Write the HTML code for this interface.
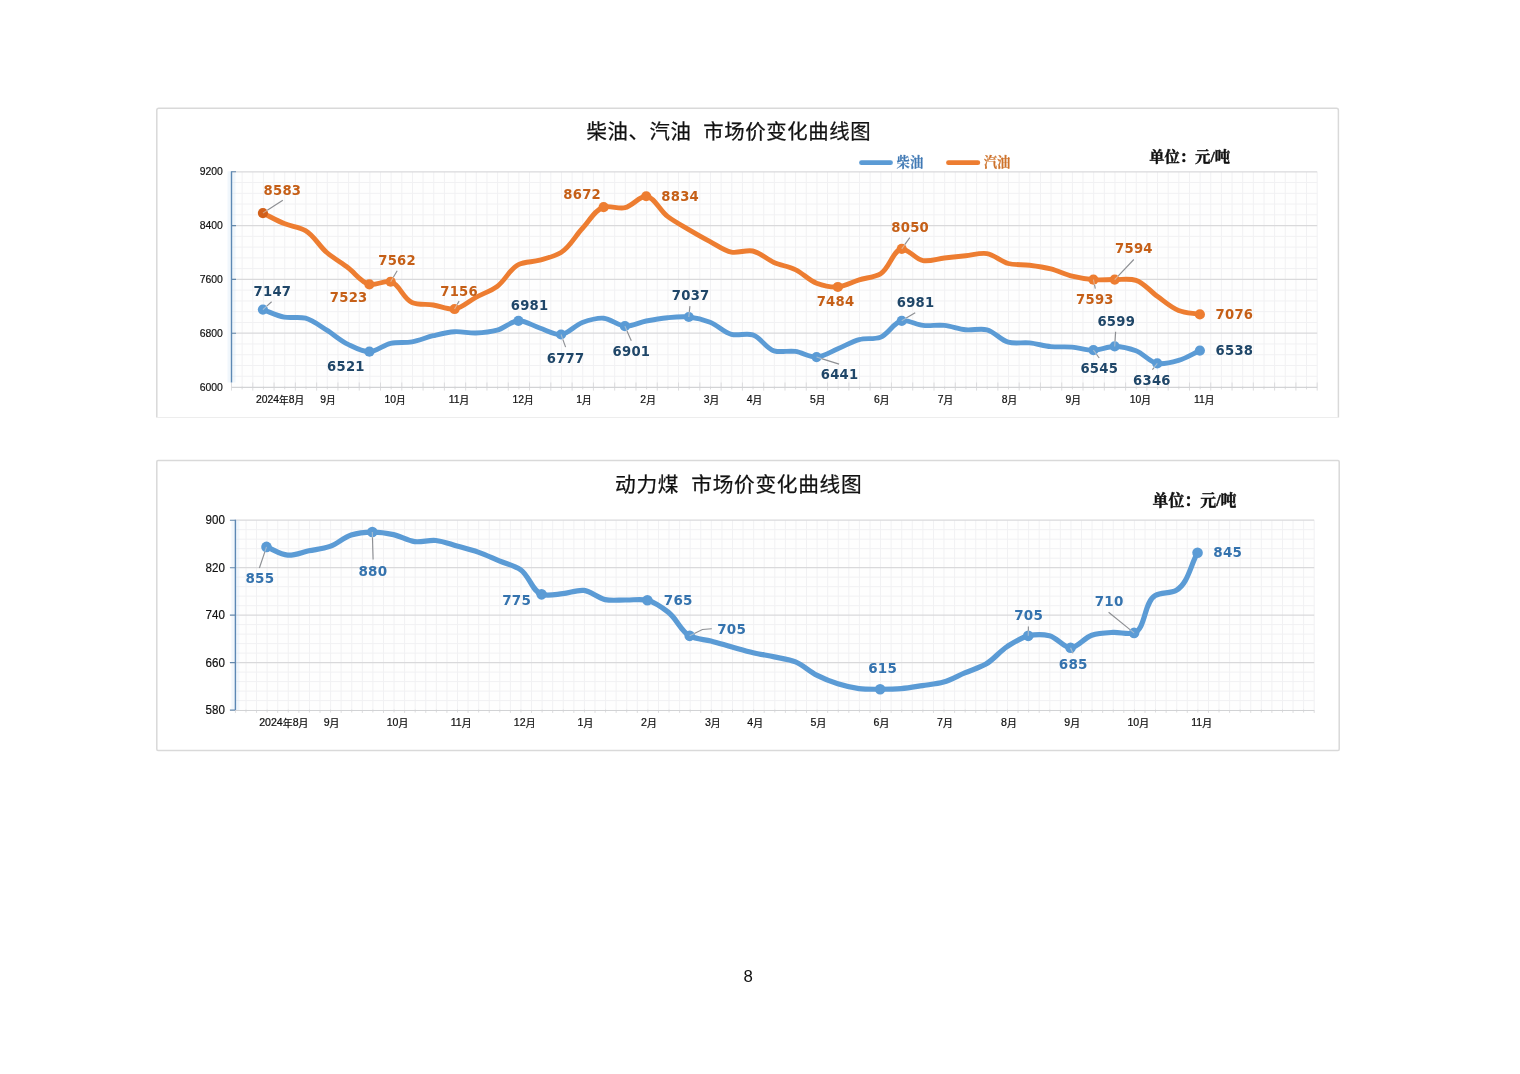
<!DOCTYPE html>
<html lang="zh-CN"><head><meta charset="utf-8"><title>市场价变化曲线图</title>
<style>html,body{margin:0;padding:0;background:#fff;}body{width:1520px;height:1074px;overflow:hidden;position:relative;}svg{position:absolute;left:0;top:0;display:block;}text{white-space:pre;}</style></head><body>
<svg width="1520" height="1074" viewBox="0 0 1520 1074">
<rect width="1520" height="1074" fill="#fff"/>
<!-- chart 1 : diesel / gasoline -->
<path d="M156.8 417.5V110.2a2 2 0 0 1 2-2H1336.4a2 2 0 0 1 2 2V417.5" fill="#fff" stroke="#d9d9d9" stroke-width="1.5"/>
<path d="M156.8 417.5H1338.4" fill="none" stroke="#ededed" stroke-width="1.2"/>
<rect x="231.5" y="171.8" width="1085.7" height="215.2" fill="#fefefe"/>
<path d="M242.14 171.8V387M252.79 171.8V387M263.43 171.8V387M274.08 171.8V387M284.72 171.8V387M295.36 171.8V387M306.01 171.8V387M316.65 171.8V387M327.3 171.8V387M337.94 171.8V387M348.59 171.8V387M359.23 171.8V387M369.87 171.8V387M380.52 171.8V387M391.16 171.8V387M401.81 171.8V387M412.45 171.8V387M423.09 171.8V387M433.74 171.8V387M444.38 171.8V387M455.03 171.8V387M465.67 171.8V387M476.31 171.8V387M486.96 171.8V387M497.6 171.8V387M508.25 171.8V387M518.89 171.8V387M529.54 171.8V387M540.18 171.8V387M550.82 171.8V387M561.47 171.8V387M572.11 171.8V387M582.76 171.8V387M593.4 171.8V387M604.04 171.8V387M614.69 171.8V387M625.33 171.8V387M635.98 171.8V387M646.62 171.8V387M657.26 171.8V387M667.91 171.8V387M678.55 171.8V387M689.2 171.8V387M699.84 171.8V387M710.49 171.8V387M721.13 171.8V387M731.77 171.8V387M742.42 171.8V387M753.06 171.8V387M763.71 171.8V387M774.35 171.8V387M784.99 171.8V387M795.64 171.8V387M806.28 171.8V387M816.93 171.8V387M827.57 171.8V387M838.21 171.8V387M848.86 171.8V387M859.5 171.8V387M870.15 171.8V387M880.79 171.8V387M891.44 171.8V387M902.08 171.8V387M912.72 171.8V387M923.37 171.8V387M934.01 171.8V387M944.66 171.8V387M955.3 171.8V387M965.94 171.8V387M976.59 171.8V387M987.23 171.8V387M997.88 171.8V387M1008.52 171.8V387M1019.16 171.8V387M1029.81 171.8V387M1040.45 171.8V387M1051.1 171.8V387M1061.74 171.8V387M1072.39 171.8V387M1083.03 171.8V387M1093.67 171.8V387M1104.32 171.8V387M1114.96 171.8V387M1125.61 171.8V387M1136.25 171.8V387M1146.89 171.8V387M1157.54 171.8V387M1168.18 171.8V387M1178.83 171.8V387M1189.47 171.8V387M1200.11 171.8V387M1210.76 171.8V387M1221.4 171.8V387M1232.05 171.8V387M1242.69 171.8V387M1253.34 171.8V387M1263.98 171.8V387M1274.62 171.8V387M1285.27 171.8V387M1295.91 171.8V387M1306.56 171.8V387M1317.2 171.8V387" stroke="#f1f1f3" stroke-width="1" fill="none"/>
<path d="M231.5 182.56H1317.2M231.5 193.32H1317.2M231.5 204.08H1317.2M231.5 214.84H1317.2M231.5 236.36H1317.2M231.5 247.12H1317.2M231.5 257.88H1317.2M231.5 268.64H1317.2M231.5 290.16H1317.2M231.5 300.92H1317.2M231.5 311.68H1317.2M231.5 322.44H1317.2M231.5 343.96H1317.2M231.5 354.72H1317.2M231.5 365.48H1317.2M231.5 376.24H1317.2" stroke="#f1f1f3" stroke-width="1" fill="none"/>
<path d="M231.5 171.8H1317.2M231.5 225.6H1317.2M231.5 279.4H1317.2M231.5 333.2H1317.2" stroke="#d9d9db" stroke-width="1.2" fill="none"/>
<path d="M231.5 382.5V390.6M242.14 386.5V389.4M252.79 382.5V390.6M263.43 386.5V389.4M274.08 382.5V390.6M284.72 386.5V389.4M295.36 382.5V390.6M306.01 386.5V389.4M316.65 382.5V390.6M327.3 386.5V389.4M337.94 382.5V390.6M348.59 386.5V389.4M359.23 382.5V390.6M369.87 386.5V389.4M380.52 382.5V390.6M391.16 386.5V389.4M401.81 382.5V390.6M412.45 386.5V389.4M423.09 382.5V390.6M433.74 386.5V389.4M444.38 382.5V390.6M455.03 386.5V389.4M465.67 382.5V390.6M476.31 386.5V389.4M486.96 382.5V390.6M497.6 386.5V389.4M508.25 382.5V390.6M518.89 386.5V389.4M529.54 382.5V390.6M540.18 386.5V389.4M550.82 382.5V390.6M561.47 386.5V389.4M572.11 382.5V390.6M582.76 386.5V389.4M593.4 382.5V390.6M604.04 386.5V389.4M614.69 382.5V390.6M625.33 386.5V389.4M635.98 382.5V390.6M646.62 386.5V389.4M657.26 382.5V390.6M667.91 386.5V389.4M678.55 382.5V390.6M689.2 386.5V389.4M699.84 382.5V390.6M710.49 386.5V389.4M721.13 382.5V390.6M731.77 386.5V389.4M742.42 382.5V390.6M753.06 386.5V389.4M763.71 382.5V390.6M774.35 386.5V389.4M784.99 382.5V390.6M795.64 386.5V389.4M806.28 382.5V390.6M816.93 386.5V389.4M827.57 382.5V390.6M838.21 386.5V389.4M848.86 382.5V390.6M859.5 386.5V389.4M870.15 382.5V390.6M880.79 386.5V389.4M891.44 382.5V390.6M902.08 386.5V389.4M912.72 382.5V390.6M923.37 386.5V389.4M934.01 382.5V390.6M944.66 386.5V389.4M955.3 382.5V390.6M965.94 386.5V389.4M976.59 382.5V390.6M987.23 386.5V389.4M997.88 382.5V390.6M1008.52 386.5V389.4M1019.16 382.5V390.6M1029.81 386.5V389.4M1040.45 382.5V390.6M1051.1 386.5V389.4M1061.74 382.5V390.6M1072.39 386.5V389.4M1083.03 382.5V390.6M1093.67 386.5V389.4M1104.32 382.5V390.6M1114.96 386.5V389.4M1125.61 382.5V390.6M1136.25 386.5V389.4M1146.89 382.5V390.6M1157.54 386.5V389.4M1168.18 382.5V390.6M1178.83 386.5V389.4M1189.47 382.5V390.6M1200.11 386.5V389.4M1210.76 382.5V390.6M1221.4 386.5V389.4M1232.05 382.5V390.6M1242.69 386.5V389.4M1253.34 382.5V390.6M1263.98 386.5V389.4M1274.62 382.5V390.6M1285.27 386.5V389.4M1295.91 382.5V390.6M1306.56 386.5V389.4M1317.2 382.5V390.6" stroke="#dcdcde" stroke-width="1" fill="none"/>
<path d="M231.5 171.3V382.5" stroke="#d6e8f7" stroke-opacity="0.35" stroke-width="8" fill="none"/>
<path d="M231.5 171.3V382.5" stroke="#5c88b4" stroke-width="1.4" fill="none"/>
<path d="M231.5 171.8H236M231.5 225.6H236M231.5 279.4H236M231.5 333.2H236" stroke="#6488ab" stroke-width="1.1" fill="none"/>
<path d="M231.5 387.4H1317.2" stroke="#d2d3d5" stroke-width="1.2" fill="none"/>
<text x="586.6" y="138.6" font-family='"Liberation Sans", "Noto Sans CJK SC", sans-serif' font-size="20.4" letter-spacing="0.6" word-spacing="-0.4" fill="#111" stroke="#111" stroke-width="0.25">柴油、汽油  市场价变化曲线图</text>
<path d="M861.5 162.7H890.5" stroke="#5b9bd5" stroke-width="4.8" stroke-linecap="round"/>
<text x="896.6" y="167" font-family='"Liberation Serif", "Noto Serif CJK SC", serif' font-size="13.3" font-weight="bold" fill="#4079b4" stroke="#4079b4" stroke-width="0.22" stroke-linejoin="round">柴油</text>
<path d="M948.5 162.7H977.8" stroke="#ed7d31" stroke-width="4.8" stroke-linecap="round"/>
<text x="983.8" y="167" font-family='"Liberation Serif", "Noto Serif CJK SC", serif' font-size="13.3" font-weight="bold" fill="#cd7129" stroke="#cd7129" stroke-width="0.22" stroke-linejoin="round">汽油</text>
<text x="1149.2" y="162.2" font-family='"Liberation Serif", "Noto Serif CJK SC", serif' font-size="15.3" font-weight="bold" fill="#111" stroke="#111" stroke-width="0.45" stroke-linejoin="round">单位：元/吨</text>
<g font-family='"Liberation Sans", "Noto Sans CJK SC", sans-serif' font-size="11" fill="#111" stroke="#111" stroke-width="0.2" text-anchor="end">
<text x="222.9" y="175.38" textLength="23.2" lengthAdjust="spacingAndGlyphs">9200</text><text x="222.9" y="229.18" textLength="23.2" lengthAdjust="spacingAndGlyphs">8400</text><text x="222.9" y="282.97" textLength="23.2" lengthAdjust="spacingAndGlyphs">7600</text><text x="222.9" y="336.77" textLength="23.2" lengthAdjust="spacingAndGlyphs">6800</text><text x="222.9" y="390.57" textLength="23.2" lengthAdjust="spacingAndGlyphs">6000</text>
</g>

<g font-family='"Liberation Sans", "Noto Sans CJK SC", sans-serif' font-size="9.7" fill="#111" stroke="#111" stroke-width="0.22" text-anchor="middle">
<text x="280" y="404.2"><tspan font-size="10.38" dy="-0.9">2024</tspan><tspan dy="0.9">年</tspan><tspan font-size="10.38" dy="-0.9">8</tspan><tspan dy="0.9">月</tspan></text><text x="328" y="404.2"><tspan font-size="10.38" dy="-0.9">9</tspan><tspan dy="0.9">月</tspan></text><text x="395" y="404.2"><tspan font-size="10.38" dy="-0.9">10</tspan><tspan dy="0.9">月</tspan></text><text x="459" y="404.2"><tspan font-size="10.38" dy="-0.9">11</tspan><tspan dy="0.9">月</tspan></text><text x="523" y="404.2"><tspan font-size="10.38" dy="-0.9">12</tspan><tspan dy="0.9">月</tspan></text><text x="583.9" y="404.2"><tspan font-size="10.38" dy="-0.9">1</tspan><tspan dy="0.9">月</tspan></text><text x="648.1" y="404.2"><tspan font-size="10.38" dy="-0.9">2</tspan><tspan dy="0.9">月</tspan></text><text x="711.5" y="404.2"><tspan font-size="10.38" dy="-0.9">3</tspan><tspan dy="0.9">月</tspan></text><text x="754.5" y="404.2"><tspan font-size="10.38" dy="-0.9">4</tspan><tspan dy="0.9">月</tspan></text><text x="817.8" y="404.2"><tspan font-size="10.38" dy="-0.9">5</tspan><tspan dy="0.9">月</tspan></text><text x="881.7" y="404.2"><tspan font-size="10.38" dy="-0.9">6</tspan><tspan dy="0.9">月</tspan></text><text x="945.5" y="404.2"><tspan font-size="10.38" dy="-0.9">7</tspan><tspan dy="0.9">月</tspan></text><text x="1009.4" y="404.2"><tspan font-size="10.38" dy="-0.9">8</tspan><tspan dy="0.9">月</tspan></text><text x="1073.3" y="404.2"><tspan font-size="10.38" dy="-0.9">9</tspan><tspan dy="0.9">月</tspan></text><text x="1140.3" y="404.2"><tspan font-size="10.38" dy="-0.9">10</tspan><tspan dy="0.9">月</tspan></text><text x="1204.3" y="404.2"><tspan font-size="10.38" dy="-0.9">11</tspan><tspan dy="0.9">月</tspan></text>
</g>

<path d="M262.9 309.62C270 312.11 276.88 315.69 284.19 317.1C291.1 318.43 298.81 316.38 305.49 318.2C313.14 320.29 319.84 325.95 326.78 330.2C334.05 334.65 340.46 340.72 348.08 344.4C354.78 347.64 362.34 351.83 369.38 351.69C376.53 351.55 383.31 344.93 390.67 343.3C397.54 341.78 404.99 343.02 411.96 341.8C419.2 340.54 426.08 337.39 433.26 335.7C440.28 334.04 447.4 332.14 454.56 331.7C461.6 331.27 468.78 333.24 475.85 333C482.97 332.75 490.31 332.08 497.14 330.2C504.55 328.17 511.21 321.05 518.44 320.78C525.42 320.51 532.6 325.7 539.74 328C546.8 330.27 554.23 335.09 561.03 334.49C568.49 333.82 574.76 325.23 582.33 322.5C589.05 320.07 596.68 317.69 603.62 318.2C610.89 318.73 617.68 325.76 624.91 326.15C631.89 326.53 639.05 322.42 646.21 321C653.25 319.61 660.37 318.36 667.5 317.7C674.56 317.04 681.8 316.3 688.8 317.01C696 317.75 703.35 319.58 710.1 322.2C717.63 325.12 723.72 332.3 731.39 334.3C738.06 336.04 746.21 332.9 752.68 334.9C760.76 337.4 765.91 348.3 773.98 350.8C780.45 352.8 788.29 350.4 795.27 351.4C802.5 352.43 809.59 357.41 816.57 357.06C823.8 356.71 830.82 351.69 837.87 348.8C845.02 345.87 851.76 341.52 859.16 339.6C866 337.82 874 339.58 880.46 337.2C888.56 334.21 893.73 322.18 901.75 320.78C908.25 319.64 915.86 324.64 923.05 325.4C930.06 326.14 937.31 324.69 944.34 325.4C951.51 326.13 958.46 329.07 965.63 329.8C972.66 330.51 980.28 328.14 986.93 329.8C994.63 331.72 1000.53 340.14 1008.23 342.2C1014.88 343.98 1022.47 342.18 1029.52 342.9C1036.67 343.63 1043.66 345.9 1050.82 346.6C1057.86 347.29 1065.04 346.53 1072.11 347.1C1079.24 347.68 1086.32 350.18 1093.41 350.08C1100.52 349.97 1107.62 346.34 1114.7 346.45C1121.82 346.56 1129.3 348.3 1135.99 350.8C1143.62 353.65 1149.62 362.12 1157.29 363.45C1163.95 364.61 1171.77 362.37 1178.59 360.4C1186.02 358.25 1192.78 353.83 1199.88 350.55" fill="none" stroke="#5b9bd5" stroke-width="4.9" stroke-linecap="round" stroke-linejoin="round"/>
<circle cx="262.9" cy="309.62" r="5.1" fill="#5b9bd5"/><circle cx="369.38" cy="351.69" r="5.1" fill="#5b9bd5"/><circle cx="518.44" cy="320.78" r="5.1" fill="#5b9bd5"/><circle cx="561.03" cy="334.49" r="5.1" fill="#5b9bd5"/><circle cx="624.91" cy="326.15" r="5.1" fill="#5b9bd5"/><circle cx="688.8" cy="317.01" r="5.1" fill="#5b9bd5"/><circle cx="816.57" cy="357.06" r="5.1" fill="#5b9bd5"/><circle cx="901.75" cy="320.78" r="5.1" fill="#5b9bd5"/><circle cx="1093.41" cy="350.08" r="5.1" fill="#5b9bd5"/><circle cx="1114.7" cy="346.45" r="5.1" fill="#5b9bd5"/><circle cx="1157.29" cy="363.45" r="5.1" fill="#5b9bd5"/><circle cx="1199.88" cy="350.55" r="5.1" fill="#5b9bd5"/>

<path d="M262.9 213.12C270 216.61 276.88 220.63 284.19 223.6C291.1 226.4 299.19 226.99 305.49 230.6C314.07 235.52 319.06 245.93 326.78 252.5C333.42 258.14 341.08 262.57 348.08 267.8C355.28 273.18 361.26 282.52 369.38 284.35C375.83 285.81 384.4 280.15 390.67 281.73C399.35 283.92 403.29 298.81 411.96 302.4C418.24 304.99 426.2 303.91 433.26 305C440.39 306.11 447.81 309.94 454.56 309.02C462.1 307.98 468.71 301.19 475.85 297.4C482.91 293.65 490.71 290.97 497.14 286.4C505.32 280.59 509.68 268.83 518.44 264.6C524.69 261.58 532.77 262.16 539.74 260.2C546.98 258.16 554.8 256.34 561.03 252.5C569.86 247.06 574.99 236.28 582.33 228.5C589.22 221.19 594.79 209.93 603.62 207.14C609.86 205.17 618.21 209.18 624.91 207.7C632.52 206.03 639.67 195.84 646.21 196.26C654.14 196.76 659.76 210.53 667.5 216.4C674.13 221.42 681.61 225.35 688.8 229.6C695.81 233.74 702.89 237.8 710.1 241.6C717.09 245.29 723.87 250.66 731.39 252.1C738.15 253.39 745.98 249.62 752.68 251C760.28 252.56 766.61 259.23 773.98 262.4C780.84 265.35 788.55 266.43 795.27 269.6C802.84 273.16 808.83 280.32 816.57 283.2C823.2 285.67 830.89 287.45 837.87 286.98C845.1 286.48 852.02 282.11 859.16 279.9C866.21 277.72 874.28 277.28 880.46 273.8C889.58 268.66 893.23 249.46 901.75 248.94C908.07 248.55 915.45 259.3 923.05 260.6C929.76 261.75 937.23 258.8 944.34 258C951.43 257.2 958.54 256.53 965.63 255.8C972.73 255.07 980.13 252.55 986.93 253.6C994.39 254.75 1000.76 261.6 1008.23 263.5C1015.02 265.23 1022.46 264.31 1029.52 265.2C1036.66 266.1 1043.86 267.13 1050.82 268.9C1058.06 270.75 1064.85 274.4 1072.11 276.2C1079.06 277.93 1086.26 279.09 1093.41 279.65C1100.46 280.2 1107.6 279.48 1114.7 279.58C1121.8 279.69 1129.53 278.27 1135.99 280.3C1144.08 282.84 1150.04 291.17 1157.29 296.3C1164.25 301.23 1170.79 307.5 1178.59 310.5C1185.18 313.04 1192.78 313.1 1199.88 314.39" fill="none" stroke="#ed7d31" stroke-width="4.9" stroke-linecap="round" stroke-linejoin="round"/>
<circle cx="262.9" cy="213.12" r="5.1" fill="#d2601a"/><circle cx="369.38" cy="284.35" r="5.1" fill="#ed7d31"/><circle cx="390.67" cy="281.73" r="5.1" fill="#ed7d31"/><circle cx="454.56" cy="309.02" r="5.1" fill="#ed7d31"/><circle cx="603.62" cy="207.14" r="5.1" fill="#ed7d31"/><circle cx="646.21" cy="196.26" r="5.1" fill="#ed7d31"/><circle cx="837.87" cy="286.98" r="5.1" fill="#ed7d31"/><circle cx="901.75" cy="248.94" r="5.1" fill="#ed7d31"/><circle cx="1093.41" cy="279.65" r="5.1" fill="#ed7d31"/><circle cx="1114.7" cy="279.58" r="5.1" fill="#ed7d31"/><circle cx="1199.88" cy="314.39" r="5.1" fill="#ed7d31"/>

<polyline points="262.9,213.12 267.27,210.31" fill="none" stroke="#d9d4cf" stroke-opacity="0.6" stroke-width="1.1"/>
<polyline points="267.27,210.31 282.8,200.3" fill="none" stroke="#8d8f93" stroke-width="1.15"/>
<polyline points="262.9,309.62 266.77,306.15" fill="none" stroke="#d9d4cf" stroke-opacity="0.6" stroke-width="1.1"/>
<polyline points="266.77,306.15 271.6,301.8" fill="none" stroke="#8d8f93" stroke-width="1.15"/>
<polyline points="390.67,281.73 393.32,277.26" fill="none" stroke="#d9d4cf" stroke-opacity="0.6" stroke-width="1.1"/>
<polyline points="393.32,277.26 397.2,270.7" fill="none" stroke="#8d8f93" stroke-width="1.15"/>
<polyline points="454.56,309.02 457.14,304.51" fill="none" stroke="#d9d4cf" stroke-opacity="0.6" stroke-width="1.1"/>
<polyline points="457.14,304.51 459.1,301.1" fill="none" stroke="#8d8f93" stroke-width="1.15"/>
<polyline points="561.03,334.49 562.8,339.37" fill="none" stroke="#d9d4cf" stroke-opacity="0.6" stroke-width="1.1"/>
<polyline points="562.8,339.37 565.6,347.1" fill="none" stroke="#8d8f93" stroke-width="1.15"/>
<polyline points="624.91,326.15 627,330.91" fill="none" stroke="#d9d4cf" stroke-opacity="0.6" stroke-width="1.1"/>
<polyline points="627,330.91 631.3,340.7" fill="none" stroke="#8d8f93" stroke-width="1.15"/>
<polyline points="688.8,317.01 689.32,311.84" fill="none" stroke="#d9d4cf" stroke-opacity="0.6" stroke-width="1.1"/>
<polyline points="689.32,311.84 689.9,306.1" fill="none" stroke="#8d8f93" stroke-width="1.15"/>
<polyline points="901.75,248.94 904.76,244.7" fill="none" stroke="#d9d4cf" stroke-opacity="0.6" stroke-width="1.1"/>
<polyline points="904.76,244.7 909.8,237.6" fill="none" stroke="#8d8f93" stroke-width="1.15"/>
<polyline points="901.75,320.78 906.21,318.1" fill="none" stroke="#d9d4cf" stroke-opacity="0.6" stroke-width="1.1"/>
<polyline points="906.21,318.1 915.2,312.7" fill="none" stroke="#8d8f93" stroke-width="1.15"/>
<polyline points="816.57,357.06 821.53,358.61" fill="none" stroke="#d9d4cf" stroke-opacity="0.6" stroke-width="1.1"/>
<polyline points="821.53,358.61 839.1,364.1" fill="none" stroke="#8d8f93" stroke-width="1.15"/>
<polyline points="1114.7,279.58 1118.28,275.82" fill="none" stroke="#d9d4cf" stroke-opacity="0.6" stroke-width="1.1"/>
<polyline points="1118.28,275.82 1133.8,259.5" fill="none" stroke="#8d8f93" stroke-width="1.15"/>
<polyline points="1093.41,279.65 1094.48,284.74" fill="none" stroke="#d9d4cf" stroke-opacity="0.6" stroke-width="1.1"/>
<polyline points="1094.48,284.74 1095.3,288.6" fill="none" stroke="#8d8f93" stroke-width="1.15"/>
<polyline points="1114.7,346.45 1115.02,341.26" fill="none" stroke="#d9d4cf" stroke-opacity="0.6" stroke-width="1.1"/>
<polyline points="1115.02,341.26 1115.6,331.7" fill="none" stroke="#8d8f93" stroke-width="1.15"/>
<polyline points="1093.41,350.08 1096.47,354.27" fill="none" stroke="#d9d4cf" stroke-opacity="0.6" stroke-width="1.1"/>
<polyline points="1096.47,354.27 1099.2,358" fill="none" stroke="#8d8f93" stroke-width="1.15"/>
<polyline points="1157.29,363.45 1154.05,367.52" fill="none" stroke="#d9d4cf" stroke-opacity="0.6" stroke-width="1.1"/>
<polyline points="1154.05,367.52 1152.4,369.6" fill="none" stroke="#8d8f93" stroke-width="1.15"/>

<g font-family='"DejaVu Sans", "Liberation Sans", sans-serif' font-weight="bold" font-size="13.2" letter-spacing="0.25" fill="#c55f17" text-anchor="middle">
<text x="282.4" y="194.91">8583</text><text x="348.7" y="302.41">7523</text><text x="397.1" y="264.81">7562</text><text x="459.1" y="295.81">7156</text><text x="582.2" y="199.01">8672</text><text x="680.2" y="200.71">8834</text><text x="910.2" y="231.61">8050</text><text x="835.5" y="306.01">7484</text><text x="1133.9" y="253.21">7594</text><text x="1094.9" y="304.01">7593</text><text x="1234.4" y="318.81">7076</text>
</g>

<g font-family='"DejaVu Sans", "Liberation Sans", sans-serif' font-weight="bold" font-size="13.2" letter-spacing="0.25" fill="#1f4668" text-anchor="middle">
<text x="272.4" y="295.81">7147</text><text x="345.9" y="370.81">6521</text><text x="529.6" y="310.11">6981</text><text x="565.6" y="362.71">6777</text><text x="631.4" y="356.11">6901</text><text x="690.7" y="300.21">7037</text><text x="915.6" y="306.81">6981</text><text x="839.6" y="379.11">6441</text><text x="1116.3" y="325.91">6599</text><text x="1099.3" y="372.51">6545</text><text x="1151.9" y="384.61">6346</text><text x="1234.4" y="355.01">6538</text>
</g>

<!-- chart 2 : thermal coal -->
<rect x="156.8" y="460.6" width="1182.4" height="289.8" rx="1.2" ry="1.2" fill="#fff" stroke="#d9d9d9" stroke-width="1.5"/>
<rect x="235.4" y="520.2" width="1078.8" height="189.9" fill="#fefefe"/>
<path d="M245.98 520.2V710.1M256.55 520.2V710.1M267.13 520.2V710.1M277.71 520.2V710.1M288.28 520.2V710.1M298.86 520.2V710.1M309.44 520.2V710.1M320.01 520.2V710.1M330.59 520.2V710.1M341.16 520.2V710.1M351.74 520.2V710.1M362.32 520.2V710.1M372.89 520.2V710.1M383.47 520.2V710.1M394.05 520.2V710.1M404.62 520.2V710.1M415.2 520.2V710.1M425.78 520.2V710.1M436.35 520.2V710.1M446.93 520.2V710.1M457.51 520.2V710.1M468.08 520.2V710.1M478.66 520.2V710.1M489.24 520.2V710.1M499.81 520.2V710.1M510.39 520.2V710.1M520.96 520.2V710.1M531.54 520.2V710.1M542.12 520.2V710.1M552.69 520.2V710.1M563.27 520.2V710.1M573.85 520.2V710.1M584.42 520.2V710.1M595 520.2V710.1M605.58 520.2V710.1M616.15 520.2V710.1M626.73 520.2V710.1M637.31 520.2V710.1M647.88 520.2V710.1M658.46 520.2V710.1M669.04 520.2V710.1M679.61 520.2V710.1M690.19 520.2V710.1M700.76 520.2V710.1M711.34 520.2V710.1M721.92 520.2V710.1M732.49 520.2V710.1M743.07 520.2V710.1M753.65 520.2V710.1M764.22 520.2V710.1M774.8 520.2V710.1M785.38 520.2V710.1M795.95 520.2V710.1M806.53 520.2V710.1M817.11 520.2V710.1M827.68 520.2V710.1M838.26 520.2V710.1M848.84 520.2V710.1M859.41 520.2V710.1M869.99 520.2V710.1M880.56 520.2V710.1M891.14 520.2V710.1M901.72 520.2V710.1M912.29 520.2V710.1M922.87 520.2V710.1M933.45 520.2V710.1M944.02 520.2V710.1M954.6 520.2V710.1M965.18 520.2V710.1M975.75 520.2V710.1M986.33 520.2V710.1M996.91 520.2V710.1M1007.48 520.2V710.1M1018.06 520.2V710.1M1028.64 520.2V710.1M1039.21 520.2V710.1M1049.79 520.2V710.1M1060.36 520.2V710.1M1070.94 520.2V710.1M1081.52 520.2V710.1M1092.09 520.2V710.1M1102.67 520.2V710.1M1113.25 520.2V710.1M1123.82 520.2V710.1M1134.4 520.2V710.1M1144.98 520.2V710.1M1155.55 520.2V710.1M1166.13 520.2V710.1M1176.71 520.2V710.1M1187.28 520.2V710.1M1197.86 520.2V710.1M1208.44 520.2V710.1M1219.01 520.2V710.1M1229.59 520.2V710.1M1240.16 520.2V710.1M1250.74 520.2V710.1M1261.32 520.2V710.1M1271.89 520.2V710.1M1282.47 520.2V710.1M1293.05 520.2V710.1M1303.62 520.2V710.1M1314.2 520.2V710.1" stroke="#f1f1f3" stroke-width="1" fill="none"/>
<path d="M235.4 529.7H1314.2M235.4 539.19H1314.2M235.4 548.69H1314.2M235.4 558.18H1314.2M235.4 577.17H1314.2M235.4 586.67H1314.2M235.4 596.16H1314.2M235.4 605.66H1314.2M235.4 624.64H1314.2M235.4 634.14H1314.2M235.4 643.63H1314.2M235.4 653.13H1314.2M235.4 672.12H1314.2M235.4 681.62H1314.2M235.4 691.11H1314.2M235.4 700.61H1314.2" stroke="#f1f1f3" stroke-width="1" fill="none"/>
<path d="M235.4 520.2H1314.2M235.4 567.68H1314.2M235.4 615.15H1314.2M235.4 662.62H1314.2" stroke="#d9d9db" stroke-width="1.2" fill="none"/>
<path d="M235.4 710.1V712.9M245.98 709.6V712.5M256.55 710.1V712.9M267.13 709.6V712.5M277.71 710.1V712.9M288.28 709.6V712.5M298.86 710.1V712.9M309.44 709.6V712.5M320.01 710.1V712.9M330.59 709.6V712.5M341.16 710.1V712.9M351.74 709.6V712.5M362.32 710.1V712.9M372.89 709.6V712.5M383.47 710.1V712.9M394.05 709.6V712.5M404.62 710.1V712.9M415.2 709.6V712.5M425.78 710.1V712.9M436.35 709.6V712.5M446.93 710.1V712.9M457.51 709.6V712.5M468.08 710.1V712.9M478.66 709.6V712.5M489.24 710.1V712.9M499.81 709.6V712.5M510.39 710.1V712.9M520.96 709.6V712.5M531.54 710.1V712.9M542.12 709.6V712.5M552.69 710.1V712.9M563.27 709.6V712.5M573.85 710.1V712.9M584.42 709.6V712.5M595 710.1V712.9M605.58 709.6V712.5M616.15 710.1V712.9M626.73 709.6V712.5M637.31 710.1V712.9M647.88 709.6V712.5M658.46 710.1V712.9M669.04 709.6V712.5M679.61 710.1V712.9M690.19 709.6V712.5M700.76 710.1V712.9M711.34 709.6V712.5M721.92 710.1V712.9M732.49 709.6V712.5M743.07 710.1V712.9M753.65 709.6V712.5M764.22 710.1V712.9M774.8 709.6V712.5M785.38 710.1V712.9M795.95 709.6V712.5M806.53 710.1V712.9M817.11 709.6V712.5M827.68 710.1V712.9M838.26 709.6V712.5M848.84 710.1V712.9M859.41 709.6V712.5M869.99 710.1V712.9M880.56 709.6V712.5M891.14 710.1V712.9M901.72 709.6V712.5M912.29 710.1V712.9M922.87 709.6V712.5M933.45 710.1V712.9M944.02 709.6V712.5M954.6 710.1V712.9M965.18 709.6V712.5M975.75 710.1V712.9M986.33 709.6V712.5M996.91 710.1V712.9M1007.48 709.6V712.5M1018.06 710.1V712.9M1028.64 709.6V712.5M1039.21 710.1V712.9M1049.79 709.6V712.5M1060.36 710.1V712.9M1070.94 709.6V712.5M1081.52 710.1V712.9M1092.09 709.6V712.5M1102.67 710.1V712.9M1113.25 709.6V712.5M1123.82 710.1V712.9M1134.4 709.6V712.5M1144.98 710.1V712.9M1155.55 709.6V712.5M1166.13 710.1V712.9M1176.71 709.6V712.5M1187.28 710.1V712.9M1197.86 709.6V712.5M1208.44 710.1V712.9M1219.01 709.6V712.5M1229.59 710.1V712.9M1240.16 709.6V712.5M1250.74 710.1V712.9M1261.32 709.6V712.5M1271.89 710.1V712.9M1282.47 709.6V712.5M1293.05 710.1V712.9M1303.62 709.6V712.5M1314.2 710.1V712.9" stroke="#dcdcde" stroke-width="1" fill="none"/>
<path d="M235.4 519.7V710.1" stroke="#d6e8f7" stroke-opacity="0.35" stroke-width="8" fill="none"/>
<path d="M235.4 519.7V710.1" stroke="#5c88b4" stroke-width="1.4" fill="none"/>
<path d="M229.9 520.2H235.4M229.9 567.68H235.4M229.9 615.15H235.4M229.9 662.62H235.4M229.9 710.1H235.4" stroke="#6488ab" stroke-width="1.1" fill="none"/>
<path d="M235.4 710.5H1314.2" stroke="#d2d3d5" stroke-width="1.2" fill="none"/>
<text x="615.0" y="491.6" font-family='"Liberation Sans", "Noto Sans CJK SC", sans-serif' font-size="20.7" letter-spacing="0.7" word-spacing="-0.4" fill="#111" stroke="#111" stroke-width="0.25">动力煤  市场价变化曲线图</text>
<text x="1152.6" y="506.2" font-family='"Liberation Serif", "Noto Serif CJK SC", serif' font-size="15.9" font-weight="bold" fill="#111" stroke="#111" stroke-width="0.45" stroke-linejoin="round">单位：元/吨</text>
<g font-family='"Liberation Sans", "Noto Sans CJK SC", sans-serif' font-size="12.5" fill="#111" stroke="#111" stroke-width="0.2" text-anchor="end">
<text x="224.9" y="524.26" textLength="19.3" lengthAdjust="spacingAndGlyphs">900</text><text x="224.9" y="571.74" textLength="19.3" lengthAdjust="spacingAndGlyphs">820</text><text x="224.9" y="619.21" textLength="19.3" lengthAdjust="spacingAndGlyphs">740</text><text x="224.9" y="666.69" textLength="19.3" lengthAdjust="spacingAndGlyphs">660</text><text x="224.9" y="714.16" textLength="19.3" lengthAdjust="spacingAndGlyphs">580</text>
</g>

<g font-family='"Liberation Sans", "Noto Sans CJK SC", sans-serif' font-size="9.9" fill="#111" stroke="#111" stroke-width="0.22" text-anchor="middle">
<text x="283.8" y="727"><tspan font-size="10.59" dy="-0.9">2024</tspan><tspan dy="0.9">年</tspan><tspan font-size="10.59" dy="-0.9">8</tspan><tspan dy="0.9">月</tspan></text><text x="331.6" y="727"><tspan font-size="10.59" dy="-0.9">9</tspan><tspan dy="0.9">月</tspan></text><text x="397.5" y="727"><tspan font-size="10.59" dy="-0.9">10</tspan><tspan dy="0.9">月</tspan></text><text x="461.2" y="727"><tspan font-size="10.59" dy="-0.9">11</tspan><tspan dy="0.9">月</tspan></text><text x="524.7" y="727"><tspan font-size="10.59" dy="-0.9">12</tspan><tspan dy="0.9">月</tspan></text><text x="585.5" y="727"><tspan font-size="10.59" dy="-0.9">1</tspan><tspan dy="0.9">月</tspan></text><text x="649" y="727"><tspan font-size="10.59" dy="-0.9">2</tspan><tspan dy="0.9">月</tspan></text><text x="712.8" y="727"><tspan font-size="10.59" dy="-0.9">3</tspan><tspan dy="0.9">月</tspan></text><text x="755.2" y="727"><tspan font-size="10.59" dy="-0.9">4</tspan><tspan dy="0.9">月</tspan></text><text x="818.5" y="727"><tspan font-size="10.59" dy="-0.9">5</tspan><tspan dy="0.9">月</tspan></text><text x="881.5" y="727"><tspan font-size="10.59" dy="-0.9">6</tspan><tspan dy="0.9">月</tspan></text><text x="945" y="727"><tspan font-size="10.59" dy="-0.9">7</tspan><tspan dy="0.9">月</tspan></text><text x="1009" y="727"><tspan font-size="10.59" dy="-0.9">8</tspan><tspan dy="0.9">月</tspan></text><text x="1072.2" y="727"><tspan font-size="10.59" dy="-0.9">9</tspan><tspan dy="0.9">月</tspan></text><text x="1138.3" y="727"><tspan font-size="10.59" dy="-0.9">10</tspan><tspan dy="0.9">月</tspan></text><text x="1201.6" y="727"><tspan font-size="10.59" dy="-0.9">11</tspan><tspan dy="0.9">月</tspan></text>
</g>

<path d="M266.5 546.89C273.55 549.63 280.42 554.54 287.66 555.1C294.55 555.63 301.77 552.25 308.82 550.8C315.88 549.35 323.26 548.79 329.98 546.4C337.45 543.74 343.62 537.37 351.14 535C357.82 532.89 365.24 532.13 372.3 532.06C379.34 532 386.56 533.08 393.46 534.6C400.68 536.19 407.38 540.66 414.62 541.6C421.5 542.49 428.83 539.81 435.78 540.5C442.95 541.21 449.91 544.07 456.94 546C464.02 547.94 471.18 549.69 478.1 552.1C485.29 554.6 492.21 557.89 499.26 560.8C506.32 563.72 514.23 565.48 520.42 569.6C529.21 575.45 532.23 591.29 541.58 594.34C547.66 596.32 555.73 594.35 562.74 593.7C569.83 593.04 577.09 589.6 583.9 590.4C591.24 591.26 597.67 598.06 605.06 599.6C611.83 601.02 619.17 599.89 626.22 600C633.27 600.11 640.76 598.59 647.38 600.27C655.01 602.21 662.19 607.49 668.54 612.4C676.77 618.76 680.77 631.17 689.7 635.86C695.86 639.1 703.83 639.25 710.86 641.1C717.94 642.96 724.96 645.06 732.02 647C739.06 648.93 746.07 651.04 753.18 652.7C760.18 654.33 767.31 655.37 774.34 656.9C781.42 658.44 788.87 659.22 795.5 661.9C803.11 664.97 809.28 671.35 816.66 675.1C823.43 678.54 830.57 681.52 837.82 683.8C844.7 685.96 851.84 687.7 858.98 688.6C865.95 689.48 873.09 689.24 880.14 689.24C887.19 689.24 894.28 689.2 901.3 688.6C908.39 687.99 915.42 686.68 922.46 685.6C929.53 684.52 936.81 684.08 943.62 682.1C950.95 679.97 957.7 675.91 964.78 672.9C971.81 669.91 979.42 667.91 985.94 664.1C993.76 659.53 999.45 651.53 1007.1 646.6C1013.71 642.34 1020.75 637.58 1028.26 635.86C1034.95 634.33 1042.79 634.11 1049.42 635.7C1057.04 637.53 1063.56 647.76 1070.58 647.72C1077.67 647.68 1084.11 637.72 1091.74 635.2C1098.36 633.02 1105.82 632.78 1112.9 632.4C1119.92 632.02 1128.19 634.81 1134.06 632.89C1145.96 629.01 1143.66 602.14 1155.22 595.6C1161.11 592.27 1170.5 593.53 1176.38 590.2C1187.95 583.65 1190.49 565.28 1197.54 552.82" fill="none" stroke="#5b9bd5" stroke-width="5.2" stroke-linecap="round" stroke-linejoin="round"/>
<circle cx="266.5" cy="546.89" r="5.3" fill="#5b9bd5"/><circle cx="372.3" cy="532.06" r="5.3" fill="#5b9bd5"/><circle cx="541.58" cy="594.34" r="5.3" fill="#5b9bd5"/><circle cx="647.38" cy="600.27" r="5.3" fill="#5b9bd5"/><circle cx="689.7" cy="635.86" r="5.3" fill="#5b9bd5"/><circle cx="880.14" cy="689.24" r="5.3" fill="#5b9bd5"/><circle cx="1028.26" cy="635.86" r="5.3" fill="#5b9bd5"/><circle cx="1070.58" cy="647.72" r="5.3" fill="#5b9bd5"/><circle cx="1134.06" cy="632.89" r="5.3" fill="#5b9bd5"/><circle cx="1197.54" cy="552.82" r="5.3" fill="#5b9bd5"/>

<polyline points="266.5,546.89 264.84,551.82" fill="none" stroke="#d9d4cf" stroke-opacity="0.6" stroke-width="1.1"/>
<polyline points="264.84,551.82 259.4,568" fill="none" stroke="#8d8f93" stroke-width="1.15"/>
<polyline points="372.3,532.06 372.45,537.26" fill="none" stroke="#d9d4cf" stroke-opacity="0.6" stroke-width="1.1"/>
<polyline points="372.45,537.26 373.1,559.5" fill="none" stroke="#8d8f93" stroke-width="1.15"/>
<polyline points="689.7,635.86 694.35,633.53" fill="none" stroke="#d9d4cf" stroke-opacity="0.6" stroke-width="1.1"/>
<polyline points="694.35,633.53 702.4,629.5 711.8,628.7" fill="none" stroke="#8d8f93" stroke-width="1.15"/>
<polyline points="1028.26,635.86 1028.34,630.66" fill="none" stroke="#d9d4cf" stroke-opacity="0.6" stroke-width="1.1"/>
<polyline points="1028.34,630.66 1028.4,626.5" fill="none" stroke="#8d8f93" stroke-width="1.15"/>
<polyline points="1070.58,647.72 1072.68,652.48" fill="none" stroke="#d9d4cf" stroke-opacity="0.6" stroke-width="1.1"/>
<polyline points="1072.68,652.48 1073,653.2" fill="none" stroke="#8d8f93" stroke-width="1.15"/>
<polyline points="1134.06,632.89 1130.02,629.62" fill="none" stroke="#d9d4cf" stroke-opacity="0.6" stroke-width="1.1"/>
<polyline points="1130.02,629.62 1108.6,612.3" fill="none" stroke="#8d8f93" stroke-width="1.15"/>

<g font-family='"DejaVu Sans", "Liberation Sans", sans-serif' font-weight="bold" font-size="13.5" letter-spacing="0.25" fill="#3573ae" text-anchor="middle">
<text x="259.9" y="583.32">855</text><text x="372.9" y="576.22">880</text><text x="516.7" y="605.02">775</text><text x="678.3" y="604.72">765</text><text x="731.6" y="633.82">705</text><text x="882.6" y="673.22">615</text><text x="1028.6" y="620.02">705</text><text x="1073.3" y="669.22">685</text><text x="1109.1" y="605.92">710</text><text x="1227.8" y="556.72">845</text>
</g>

<text x="748.1" y="981.6" font-family='"Liberation Sans", "Noto Sans CJK SC", sans-serif' font-size="16.8" fill="#111" text-anchor="middle">8</text>
</svg>
</body></html>
